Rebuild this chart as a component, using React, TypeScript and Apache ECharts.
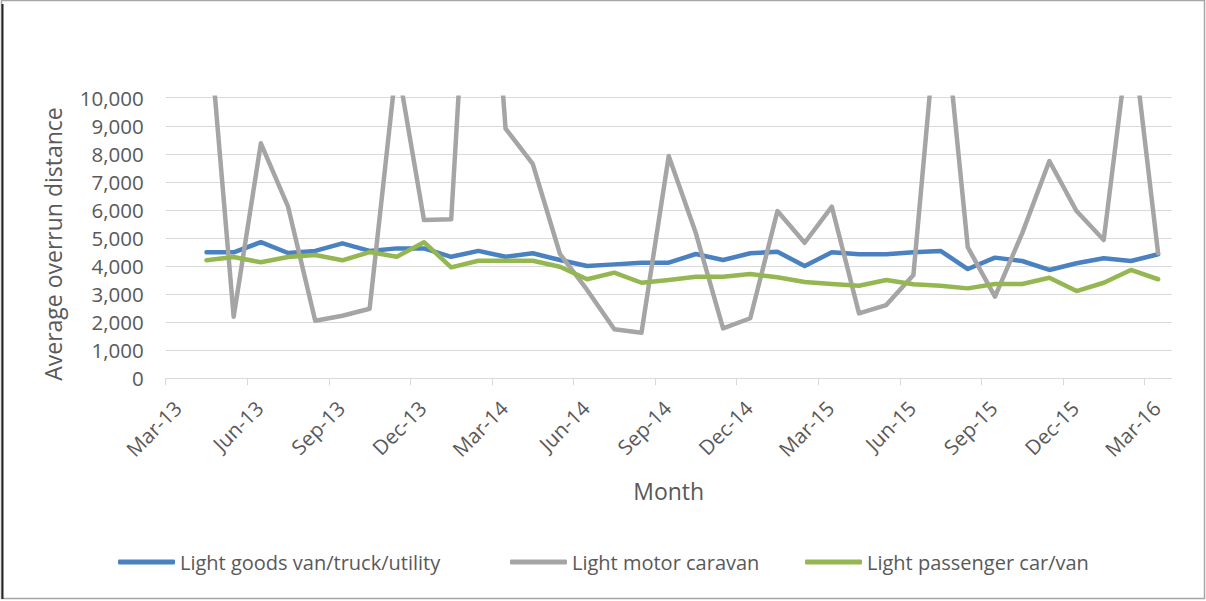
import React, { useEffect, useRef } from "react";
import * as echarts from "echarts";

// Monthly observations, April 2013 to March 2016
const months = [
  "Apr-13", "May-13", "Jun-13", "Jul-13", "Aug-13", "Sep-13", "Oct-13", "Nov-13", "Dec-13",
  "Jan-14", "Feb-14", "Mar-14", "Apr-14", "May-14", "Jun-14", "Jul-14", "Aug-14", "Sep-14",
  "Oct-14", "Nov-14", "Dec-14", "Jan-15", "Feb-15", "Mar-15", "Apr-15", "May-15", "Jun-15",
  "Jul-15", "Aug-15", "Sep-15", "Oct-15", "Nov-15", "Dec-15", "Jan-16", "Feb-16", "Mar-16",
];

const goodsVan = [
  4490, 4490, 4850, 4465, 4540, 4810, 4540, 4630, 4630, 4330, 4540, 4330,
  4455, 4215, 4000, 4060, 4120, 4120, 4430, 4215, 4455, 4510, 4000, 4490,
  4420, 4420, 4490, 4540, 3895, 4300, 4180, 3860, 4100, 4280, 4180, 4420,
];

const motorCaravan = [
  13600, 2195, 8375, 6115, 2050, 2230, 2480, 11300, 5640, 5665, 22000, 8900,
  7640, 4430, 3150, 1745, 1625, 7920, 5165, 1780, 2140, 5960, 4830, 6115,
  2315, 2610, 3680, 14400, 4670, 2910, 5165, 7745, 5960, 4930, 12700, 4455,
];

const passengerCar = [
  4205, 4320, 4135, 4320, 4395, 4205, 4500, 4335, 4850, 3955, 4190, 4190,
  4190, 3975, 3530, 3765, 3405, 3505, 3620, 3620, 3715, 3600, 3430, 3360,
  3300, 3505, 3350, 3300, 3205, 3360, 3360, 3585, 3110, 3405, 3860, 3530,
];

// Quarterly tick labels; the axis counts months from March 2013
const tickLabels = [
  "Mar-13", "Jun-13", "Sep-13", "Dec-13", "Mar-14", "Jun-14", "Sep-14",
  "Dec-14", "Mar-15", "Jun-15", "Sep-15", "Dec-15", "Mar-16",
];

const seriesNames = [
  "Light goods van/truck/utility",
  "Light motor caravan",
  "Light passenger car/van",
];
const seriesColors = ["#4A81C0", "#A5A5A5", "#94B752"];
const legendLefts = [118, 510, 805];

const FONT = "Open Sans";
const TEXT = "#595959";

// Each month's value sits in the middle of its month on the axis
const toPoints = (values: number[]) => values.map((v, i) => [i + 1.5, v]);

export default function App() {
  const ref = useRef<HTMLDivElement>(null);

  useEffect(() => {
    if (!ref.current) return;
    const chart = echarts.init(ref.current, undefined, { renderer: "svg" });
    const tickValues = tickLabels.map((_, i) => i * 3);
    const allSeries = [goodsVan, motorCaravan, passengerCar];

    chart.setOption({
      animation: false,
      backgroundColor: "#ffffff",
      textStyle: { fontFamily: FONT },
      grid: { left: 165.7, right: 34.3, top: 97.7, bottom: 222.7 },
      legend: seriesNames.map((name, k) => ({
        left: legendLefts[k],
        top: 550,
        padding: 0,
        icon: "roundRect",
        itemWidth: 57,
        itemHeight: 5,
        textStyle: { color: TEXT, fontSize: 20, fontFamily: FONT, lineHeight: 24 },
        data: [name],
      })),
      xAxis: {
        type: "value",
        min: 0,
        max: 37,
        interval: 3,
        name: "Month",
        nameLocation: "middle",
        nameGap: 101,
        nameTextStyle: { color: TEXT, fontSize: 23, fontFamily: FONT },
        axisLine: { show: true, lineStyle: { color: "#D9D9D9", width: 1 } },
        axisTick: {
          show: true,
          length: 7,
          lineStyle: { color: "#D9D9D9" },
          customValues: tickValues,
        },
        splitLine: { show: false },
        axisLabel: {
          customValues: tickValues,
          rotate: 45,
          margin: 14,
          verticalAlign: "top",
          lineHeight: 34,
          color: TEXT,
          fontSize: 20.5,
          fontFamily: FONT,
          formatter: (v: number) => {
            const i = v / 3;
            return Number.isInteger(i) && tickLabels[i] ? tickLabels[i] : "";
          },
        },
      },
      yAxis: {
        type: "value",
        min: 0,
        max: 10000,
        interval: 1000,
        name: "Average overrun distance",
        nameLocation: "middle",
        nameRotate: 90,
        nameGap: 101,
        nameTextStyle: { color: TEXT, fontSize: 23, fontFamily: FONT, padding: [0, 12, 0, 0] },
        axisLine: { show: false },
        axisTick: { show: false },
        splitLine: { show: true, lineStyle: { color: "#D9D9D9", width: 1 } },
        axisLabel: {
          margin: 22,
          color: TEXT,
          fontSize: 20.5,
          fontFamily: FONT,
          formatter: (v: number) => v.toLocaleString("en-US"),
        },
      },
      series: allSeries.map((values, k) => ({
        name: seriesNames[k],
        type: "line",
        symbol: "none",
        clip: true,
        color: seriesColors[k],
        itemStyle: { color: seriesColors[k] },
        lineStyle: { color: seriesColors[k], width: 4.5, join: "round", cap: "round" },
        data: toPoints(values),
      })),
      graphic: [
        {
          type: "rect",
          silent: true,
          shape: { x: 1.5, y: 0.5, width: 1203, height: 598 },
          style: { fill: "none", stroke: "#A6A6A6", lineWidth: 1.5 },
        },
        {
          type: "line",
          silent: true,
          shape: { x1: 2.5, y1: 4, x2: 2.5, y2: 599 },
          style: { stroke: "#262626", lineWidth: 2 },
        },
      ],
    });

    return () => chart.dispose();
  }, []);

  return (
    <div
      ref={ref}
      style={{ position: "absolute", left: 0, top: 0, width: 1206, height: 601 }}
    />
  );
}
